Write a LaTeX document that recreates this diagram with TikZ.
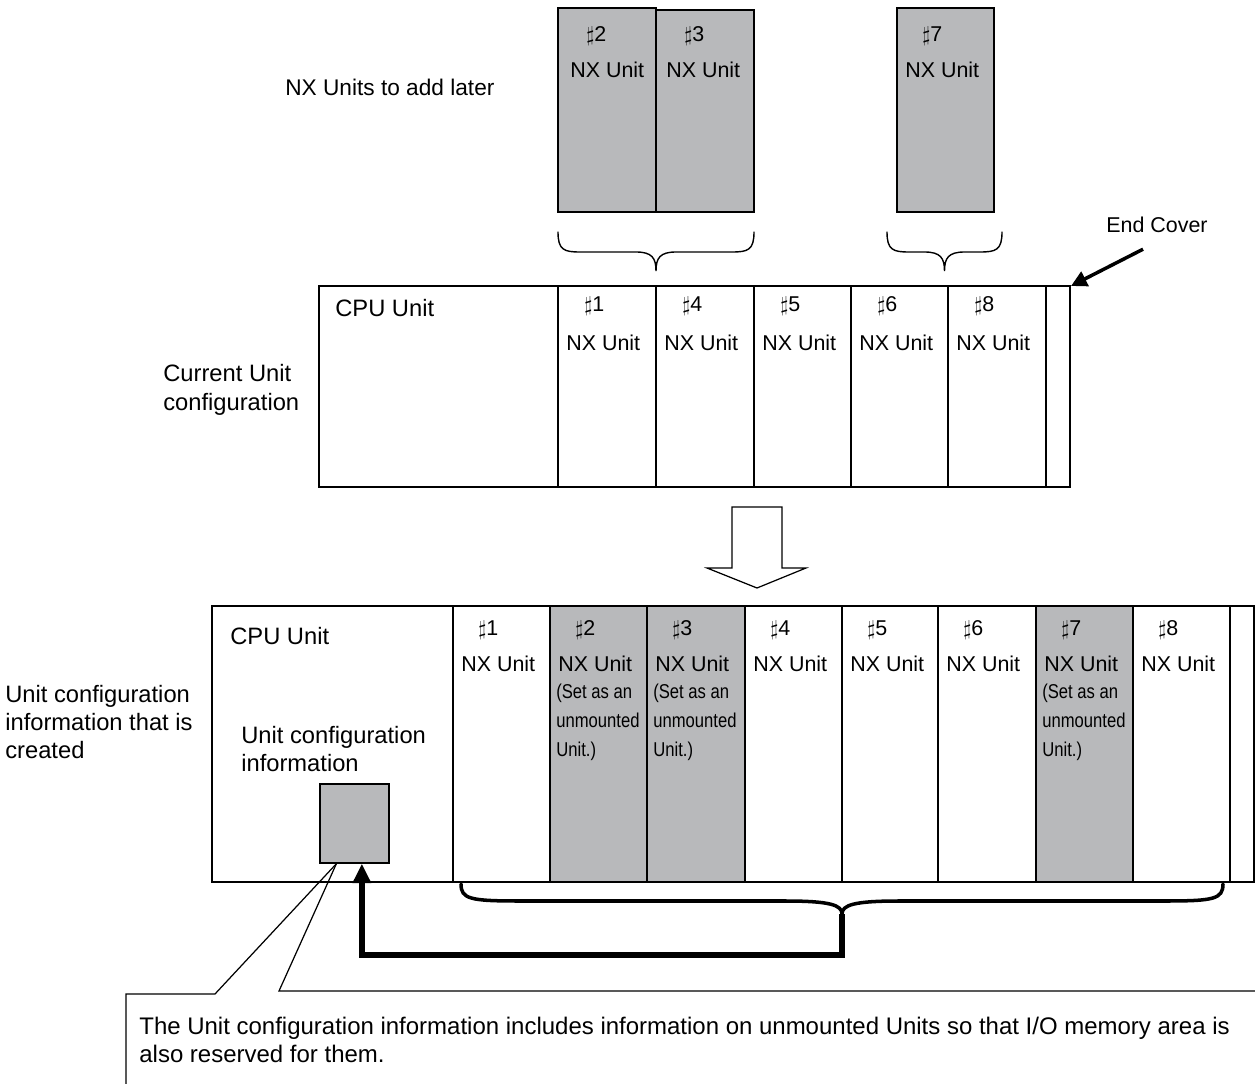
\documentclass[tikz,border=0pt]{standalone}
\usepackage{fontspec}
\setmainfont{Liberation Sans}
\usepackage{graphicx}
\usepackage{amssymb}
\usetikzlibrary{arrows.meta,positioning}

\newcommand{\unmountedtxt}{\scalebox{0.83}[1]{\begin{tabular}{@{}l@{}}(Set as an\\unmounted\\Unit.)\end{tabular}}}

\begin{document}
\begin{tikzpicture}[x=0.02cm, y=-0.02cm,
    every node/.style={inner sep=0pt, anchor=west},
    txt/.style={font=\fontsize{13.5}{16.2}\selectfont, align=left},
    unittxt/.style={font=\fontsize{12.2}{15}\selectfont},
    subtxt/.style={font=\fontsize{11.4}{16.4}\selectfont},
    frame/.style={draw=black, line width=1pt},
    grayunit/.style={frame, fill=colGray},
    brace/.style={line width=0.8pt, line cap=round},
    bigbrace/.style={line width=2pt, line cap=round},
    fatarrow/.style={line width=3.4pt, -{Triangle[length=11pt, width=10pt]}},
    endarrow/.style={line width=2pt, -{Triangle[length=9pt, width=9pt]}},
    callout/.style={line width=0.7pt}]

    % Couleurs
    \definecolor{colGray}{RGB}{184, 185, 187}

    \useasboundingbox (0,0) rectangle (1255,1084);

    % Unites a ajouter plus tard
    \node[unittxt, font=\fontsize{12.9}{15}\selectfont] (addlater) at (285,87) {NX Units to add later};
    \draw[grayunit] (558,8) rectangle (656,212);
    \draw[grayunit] (656,10) rectangle (754,212);
    \draw[grayunit] (897,8) rectangle (994,212);
    \foreach \x/\n/\dn/\du in {558/2/28/12, 656/3/28/10, 897/7/25/8} {
        \node[unittxt] (tn\n) at (\x+\dn,36) {$\sharp$\n};
        \node[unittxt] (tu\n) at (\x+\du,70) {NX Unit};
    }

    % Accolades du haut
    \foreach \xa/\xb in {558/754, 887/1002} {
        \pgfmathsetmacro{\xm}{(\xa+\xb)/2}
        \draw[brace] (\xa,232) .. controls (\xa,250) and (\xa+6,252) .. (\xa+22,252)
            -- (\xm-20,252) .. controls (\xm-4,252) and (\xm,258) .. (\xm,271)
            .. controls (\xm,258) and (\xm+4,252) .. (\xm+20,252)
            -- (\xb-22,252) .. controls (\xb-6,252) and (\xb,250) .. (\xb,232);
    }

    % Configuration actuelle
    \node[txt] (current) at (163,390) {Current Unit\\configuration};
    \draw[frame] (319,286) rectangle (1070,487);
    \foreach \x in {558,656,754,851,948,1046}
        \draw[frame] (\x,286) -- (\x,487);
    \node[txt] (cpu1) at (335,308) {CPU Unit};
    \foreach \x/\n in {558/1, 656/4, 754/5, 851/6, 948/8} {
        \node[unittxt] (cn\n) at (\x+26,306) {$\sharp$\n};
        \node[unittxt] (cu\n) at (\x+8,343) {NX Unit};
    }

    % Couvercle de fin
    \node[unittxt] (endcov) at (1106,225) {End Cover};
    \coordinate (endtop) at (1071,286);
    \draw[endarrow] ([xshift=-0.28cm,yshift=-0.32cm]endcov.south) -- (endtop);

    % Grande fleche creuse
    \draw[line width=0.7pt, fill=white] (732,507) -- (782,507) -- (782,568) -- (806,568)
        -- (757,588) -- (707,568) -- (732,568) -- cycle;

    % Configuration creee
    \node[txt] (created) at (5,722) {Unit configuration\\information that is\\created};
    \foreach \x in {550,647,1036}
        \fill[colGray] (\x,606) rectangle (\x+97,882);
    \draw[frame] (212,606) rectangle (1254,882);
    \foreach \x in {453,550,647,745,842,938,1036,1133,1230}
        \draw[frame] (\x,606) -- (\x,882);
    \node[txt] (cpu2) at (230,636) {CPU Unit};
    \foreach \x/\n in {453/1, 550/2, 647/3, 745/4, 842/5, 938/6, 1036/7, 1133/8} {
        \node[unittxt] (bn\n) at (\x+25,630) {$\sharp$\n};
        \node[unittxt] (bu\n) at (\x+8,664) {NX Unit};
    }
    \foreach \x/\n in {550/2, 647/3, 1036/7}
        \node[subtxt] (bs\n) at (\x+6,722) {\unmountedtxt};

    % Informations de configuration
    \node[txt] (cfginfo) at (241,749) {Unit configuration\\information};
    \node[grayunit, minimum width=1.38cm, minimum height=1.58cm, anchor=north west]
        (cfgbox) at (319,783) {};

    % Accolade du bas et fleche epaisse
    \draw[bigbrace] (461,884) .. controls (461,899) and (470,901) .. (520,901)
        -- (785,901) .. controls (830,901) and (842,905) .. (842,914)
        .. controls (842,905) and (854,901) .. (899,901)
        -- (1165,901) .. controls (1214,901) and (1223,899) .. (1223,884);
    \coordinate (bracetip) at (842,914);
    \draw[fatarrow] (bracetip) -- ++(0,41) -| ([xshift=0.15cm]cfgbox.south);

    % Bulle de commentaire
    \coordinate (calA) at (215,994);
    \coordinate (calB) at (279,991);
    \draw[callout] ([xshift=-0.36cm]cfgbox.south) -- (calA) -- (126,994) -- (126,1084);
    \draw[callout] ([xshift=-0.36cm]cfgbox.south) -- (calB) -- (1255,991);
    \node[txt, font=\fontsize{13.65}{16.4}\selectfont] (note) at (139,1040) {The Unit configuration information includes information on unmounted Units so that I/O memory area is\\also reserved for them.};

\end{tikzpicture}
\end{document}
